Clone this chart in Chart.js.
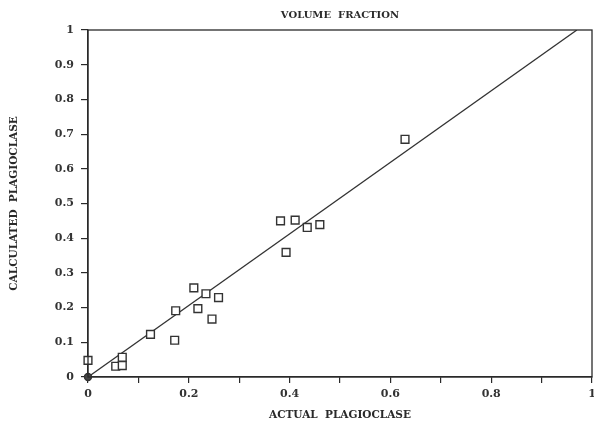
<!DOCTYPE html>
<html>
<head>
<meta charset="utf-8">
<script src="https://cdn.jsdelivr.net/npm/chart.js@4/dist/chart.umd.min.js"></script>
<style>
    html, body { margin: 0; padding: 0; background: #fff; }
    #wrap { width: 594px; height: 422px; }
</style>
</head>
<body>
<div id="wrap"><canvas id="plot"></canvas></div>
<script>
// values
const actualPlag = [0, 0, 0.055, 0.068, 0.068, 0.124, 0.172, 0.174, 0.210, 0.218, 0.234, 0.246, 0.259, 0.382, 0.393, 0.411, 0.435, 0.460, 0.629];
const calcPlag   = [0.048, 0, 0.031, 0.033, 0.057, 0.123, 0.106, 0.191, 0.257, 0.197, 0.240, 0.167, 0.229, 0.450, 0.359, 0.452, 0.431, 0.439, 0.685];
const fitX = [0, 0.97];
const fitY = [0, 1];
const tickStep = 0.1;

const ink = "#2a2a2a";
const serif = "'DejaVu Serif', 'Liberation Serif', serif";

let points = actualPlag.map((x, i) => ({ x: x, y: calcPlag[i] }));
let fitLine = fitX.map((x, i) => ({ x: x, y: fitY[i] }));

// the sample sitting on the origin shows up as a dark blob in the scan
function atOrigin(ctx) {
    let p = ctx.raw;
    return p && p.x === 0 && p.y === 0;
}

// box round the plot area
const frame = {
    id: "frame",
    afterDraw(chart) {
        let a = chart.chartArea;
        let ctx = chart.ctx;
        ctx.save();
        ctx.strokeStyle = ink;
        ctx.lineWidth = 1.3;
        ctx.strokeRect(a.left, a.top, a.right - a.left, a.bottom - a.top);
        ctx.restore();
    }
};

new Chart(document.getElementById("plot"), {
    type: "scatter",
    data: {
        datasets: [{
            label: "samples",
            data: points,
            pointStyle: c => atOrigin(c) ? "circle" : "rect",
            pointRadius: c => atOrigin(c) ? 3.5 : 5.5,
            pointHoverRadius: 5.5,
            pointBackgroundColor: c => atOrigin(c) ? "#444" : "#fff",
            pointBorderColor: "#333",
            pointBorderWidth: 1.4,
            clip: false,
            order: 1
        }, {
            type: "line",
            label: "fit",
            data: fitLine,
            borderColor: "#333",
            borderWidth: 1.3,
            pointRadius: 0,
            fill: false,
            order: 2
        }]
    },
    options: {
        responsive: true,
        maintainAspectRatio: false,
        animation: false,
        layout: { autoPadding: false, padding: { top: 0, right: 2, left: 0, bottom: 0 } },
        plugins: {
            legend: { display: false },
            tooltip: { enabled: false },
            title: {
                display: true,
                fullSize: false,
                text: "VOLUME  FRACTION",
                color: ink,
                font: { family: serif, size: 10, weight: "bold" },
                padding: { top: 9, bottom: 9 }
            }
        },
        scales: {
            x: {
                type: "linear",
                min: 0,
                max: 1,
                afterFit: s => { s.height = 45; s.paddingRight = 0; s.paddingLeft = 0; },
                border: { display: true, color: ink, width: 1.3 },
                grid: { drawOnChartArea: false, drawTicks: true, tickLength: 6, color: ink, lineWidth: 1.2 },
                ticks: {
                    stepSize: tickStep,
                    color: "#333",
                    padding: 5,
                    maxRotation: 0,
                    autoSkip: false,
                    font: { family: serif, size: 11, weight: "bold" },
                    callback: v => {
                        let t = Math.round(v * 10);
                        return t % 2 === 0 ? String(t / 10) : "";
                    }
                },
                title: {
                    display: true,
                    text: "ACTUAL  PLAGIOCLASE",
                    color: ink,
                    font: { family: serif, size: 10.5, weight: "bold" },
                    padding: { top: 3, bottom: 0 }
                }
            },
            y: {
                type: "linear",
                min: 0,
                max: 1,
                afterFit: s => { s.width = 88; },
                border: { display: true, color: ink, width: 1.3 },
                grid: { drawOnChartArea: false, drawTicks: true, tickLength: 7, color: ink, lineWidth: 1.2 },
                ticks: {
                    stepSize: tickStep,
                    color: "#333",
                    padding: 7,
                    autoSkip: false,
                    font: { family: serif, size: 11, weight: "bold" },
                    callback: v => String(Math.round(v * 10) / 10)
                },
                title: {
                    display: true,
                    text: "CALCULATED  PLAGIOCLASE",
                    color: ink,
                    font: { family: serif, size: 10.5, weight: "bold" },
                    padding: { top: 8, bottom: 0 }
                }
            }
        }
    },
    plugins: [frame]
});
</script>
</body>
</html>
